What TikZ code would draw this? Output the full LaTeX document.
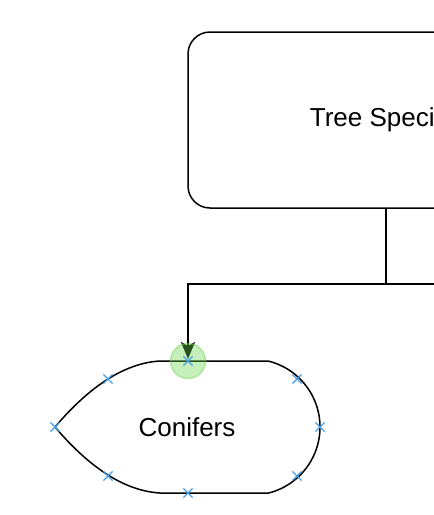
\documentclass[tikz,border=0pt]{standalone}
\usepackage{fontspec}
\setmainfont{Liberation Sans}
\usetikzlibrary{arrows.meta,shapes.misc}
\definecolor{hlgreen}{RGB}{110,215,80}
\definecolor{mkblue}{RGB}{70,160,230}
\begin{document}
\begin{tikzpicture}[x=1pt,y=-1pt,line width=1.5pt,
  box/.style={draw,rounded corners=22pt,minimum width=396pt,minimum height=176pt,inner sep=0pt,font=\fontsize{26}{30}\selectfont},
  lbl/.style={inner sep=0pt,font=\fontsize{26}{30}\selectfont},
  conn/.style={draw,line width=1.5pt},
  hl/.style={circle,minimum size=35pt,inner sep=0pt,fill=hlgreen,fill opacity=0.38,draw=hlgreen,draw opacity=0.45,line width=1.5pt},
  mark/.style={}]
\useasboundingbox (0,0) rectangle (434,515);
\fill[white] (0,0) rectangle (434,515);
% Tree Species box (clipped by page)
\node[box] (tree) at (386,120) {Tree Species};
% Conifers display shape
\draw (160,361) -- (268,361) arc[start angle=-76.4,end angle=76.4,radius=68]
  -- (160,493) .. controls (125.7,491) and (90.7,469) .. (55,427)
  .. controls (90.7,385) and (125.7,363) .. cycle;
\node[lbl] (conifers) at (187,427) {Conifers};
\coordinate (ctop) at (188,359);
\coordinate (branch) at (386,284);
\coordinate (rightend) at (440,284);
% connectors
\draw[conn] (tree.south) -- (branch) -- (rightend);
\draw[conn,-{Stealth[length=17pt,width=14pt,inset=4pt]}] (branch) -| (ctop);
% highlight
\node[hl] (hlc) at (188,361) {};
% markers
\foreach \p/\n in {{188,361}/m1,{108,379}/m2,{55,427}/m3,{108,476}/m4,{188,493}/m5,{297,379}/m6,{320,427}/m7,{297,476}/m8}{
  \node[cross out,draw=mkblue,line width=1.2pt,minimum size=8pt,inner sep=0pt] (\n) at (\p) {};
}
\end{tikzpicture}
\end{document}
